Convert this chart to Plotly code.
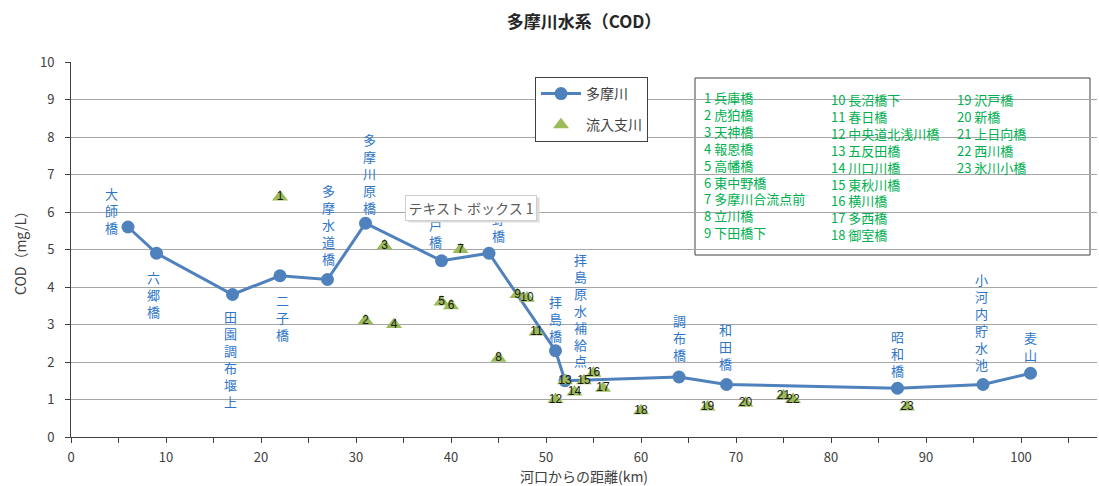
import plotly.graph_objects as go

# ---- data ----
main_names = ["大師橋", "六郷橋", "田園調布堰上", "二子橋", "多摩水道橋", "多摩川原橋", "関戸橋", "日野橋",
              "拝島橋", "拝島原水補給点", "調布橋", "和田橋", "昭和橋", "小河内貯水池", "麦山"]
main_km = [6, 9, 17, 22, 27, 31, 39, 44, 51, 52, 64, 69, 87, 96, 101]
main_cod = [5.6, 4.9, 3.8, 4.3, 4.2, 5.7, 4.7, 4.9, 2.3, 1.5, 1.6, 1.4, 1.3, 1.4, 1.7]

trib_ids = [str(i) for i in range(1, 24)]
trib_km = [22, 31, 33, 34, 39, 40, 41, 45, 47, 48, 49, 51, 52, 53, 54, 55, 56, 60, 67, 71, 75, 76, 88]
trib_cod = [6.4, 3.1, 5.1, 3.0, 3.6, 3.5, 5.0, 2.1, 3.8, 3.7, 2.8, 1.0, 1.5, 1.2, 1.5, 1.7, 1.3, 0.7, 0.8, 0.9, 1.1, 1.0, 0.8]
trib_names = ["兵庫橋", "虎狛橋", "天神橋", "報恩橋", "高幡橋", "東中野橋", "多摩川合流点前", "立川橋", "下田橋下",
              "長沼橋下", "春日橋", "中央道北浅川橋", "五反田橋", "川口川橋", "東秋川橋", "横川橋", "多西橋", "御室橋",
              "沢戸橋", "新橋", "上日向橋", "西川橋", "氷川小橋"]

x_ticks = [0, 10, 20, 30, 40, 50, 60, 70, 80, 90, 100]
y_ticks = list(range(0, 11))

# ---- layout helpers (pixel geometry) ----
W, H = 1099, 486
L, R, T, B = 71, 1097, 62, 437
def px(x):
    return (x - L) / (R - L)
def py(y):
    return (B - y) / (B - T)

# label offsets (px) for the main-river labels: (dx, dy to text center)
label_off = [(-17, 17), (-3, -41), (-2, -64), (2, -42), (1, 55), (4, 50), (-6, 36), (9, 35),
             (0, 32), (15, 71), (0, 40), (-1, 38), (0, 35), (-2, 63), (0, 27)]

FONT = "Noto Sans CJK JP"
BLUE = "#4F81BD"
LBLUE = "#2E75C8"
GREEN = "#9BBB59"
TXTGREEN = "#00B050"

fig = go.Figure()
fig.add_trace(go.Scatter(
    x=main_km, y=main_cod, mode="lines+markers", name="多摩川", legendgroup="a",
    line=dict(color=BLUE, width=3), marker=dict(size=13, color=BLUE),
))
fig.add_trace(go.Scatter(
    x=trib_km, y=trib_cod, mode="markers+text", name="流入支川", legendgroup="b",
    marker=dict(symbol="triangle-up", size=14, color=GREEN),
    text=trib_ids, textposition="middle center",
    textfont=dict(size=12, color="#1a1a1a", family="Liberation Sans"),
))

ann = []
for n, xk, yv, (dx, dy) in zip(main_names, main_km, main_cod, label_off):
    ann.append(dict(x=xk, y=yv, xref="x", yref="y", text="<br>".join(list(n)),
                    showarrow=False, xshift=dx, yshift=dy, xanchor="center", yanchor="middle",
                    font=dict(size=13, color=LBLUE, family=FONT)))

# station list box
cols = [trib_ids[0:9], trib_ids[9:18], trib_ids[18:23]]
col_x = [702, 829, 955]
col_y = [86, 88, 88]
for ids, cx, cy in zip(cols, col_x, col_y):
    lines = [f"{i} {trib_names[int(i)-1]}" for i in ids]
    ann.append(dict(x=px(cx), y=py(cy), xref="paper", yref="paper", text="<br>".join(lines),
                    showarrow=False, xanchor="left", yanchor="top", align="left",
                    font=dict(size=13, color=TXTGREEN, family=FONT)))

# text box overlay (drawn after the labels so it covers them)
ann.append(dict(x=px(474), y=py(210), xref="paper", yref="paper", text="テキスト ボックス 1",
                showarrow=False, xanchor="center", yanchor="middle", width=128, height=22,
                bgcolor="#dcdcdc", borderpad=1,
                font=dict(size=14, color="rgba(0,0,0,0)", family=FONT)))
ann.append(dict(x=px(471), y=py(208), xref="paper", yref="paper", text="テキスト ボックス 1",
                showarrow=False, xanchor="center", yanchor="middle", width=128, height=22,
                bgcolor="white", bordercolor="#cfcfcf", borderwidth=1, borderpad=1,
                font=dict(size=14, color="#595959", family=FONT)))

shapes = [
    dict(type="rect", xref="paper", yref="paper", x0=px(695), x1=px(1090), y0=py(255), y1=py(78),
         line=dict(color="#404040", width=1), fillcolor="white", layer="below"),
]

fig.update_layout(
    width=W, height=H,
    margin=dict(l=L, r=W - R, t=T, b=H - B),
    paper_bgcolor="white", plot_bgcolor="white",
    font=dict(family=FONT, size=12, color="#404040"),
    title=dict(text="<b>多摩川水系（COD）</b>", x=0.5, xref="paper", y=1 - 22 / H, yanchor="middle",
               font=dict(size=17, color="#262626", family=FONT)),
    xaxis=dict(range=[0, 108], tickvals=x_ticks, showgrid=False, zeroline=False,
               showline=True, linecolor="#404040", linewidth=1, ticks="outside", ticklen=5,
               tickcolor="#404040", ticklabelstandoff=3,
               minor=dict(dtick=5, ticks="outside", ticklen=5, tickcolor="#404040", showgrid=False),
               title=dict(text="河口からの距離(km)", font=dict(size=14, color="#404040"), standoff=6),
               tickfont=dict(size=13, color="#404040")),
    yaxis=dict(range=[0, 10], tickvals=y_ticks, showgrid=True, gridcolor="#a6a6a6", gridwidth=1,
               zeroline=False, showline=True, linecolor="#404040", linewidth=1,
               ticks="outside", ticklen=5, tickcolor="#404040", ticklabelstandoff=8,
               title=dict(text="COD（mg/L）", font=dict(size=14, color="#404040"), standoff=10),
               tickfont=dict(size=13, color="#404040")),
    legend=dict(x=px(535), y=py(77), xanchor="left", yanchor="top", bgcolor="white",
                bordercolor="#404040", borderwidth=1, font=dict(size=14, color="#404040", family=FONT),
                itemwidth=40, tracegroupgap=10),
    annotations=ann, shapes=shapes, showlegend=True,
)

fig.write_html("out.html", config={"displayModeBar": False},
               post_script="document.body.style.margin='0px';document.body.style.padding='0px';")
